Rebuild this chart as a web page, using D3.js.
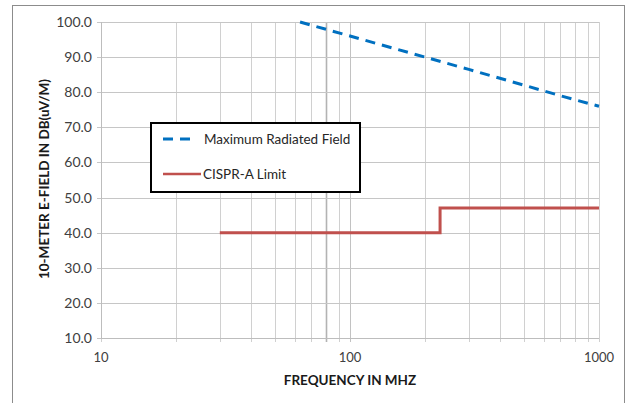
<!DOCTYPE html>
<html>
<head>
<meta charset="utf-8">
<script src="https://cdn.jsdelivr.net/npm/d3@7"></script>
<style>
  body { margin: 0; background: #fff; }
  text { font-family: Lato, "Open Sans", sans-serif; }
</style>
</head>
<body>
<script>
// data
var fieldFreq = [63, 100, 200, 300, 500, 700, 1000];
var fieldDb = [100, 96, 90, 86.5, 82, 79, 76];
var limitFreq = [30, 230, 230, 1000];
var limitDb = [40, 40, 47, 47];
var yTicks = [10, 20, 30, 40, 50, 60, 70, 80, 90, 100];
var xLabels = [10, 100, 1000];
var gridFreqs = [10, 20, 30, 40, 50, 60, 70, 80, 90, 100, 200, 300, 400, 500, 600, 700, 800, 900, 1000];
var seriesNames = ["Maximum Radiated Field", "CISPR-A Limit"];

var W = 631, H = 403;
var svg = d3.select("body").append("svg")
  .attr("width", W)
  .attr("height", H);

// outer chart border
svg.append("rect")
  .attr("x", 12.5)
  .attr("y", 5.5)
  .attr("width", 612)
  .attr("height", 410)
  .style("fill", "white")
  .style("stroke", "#8c8c8c")
  .style("stroke-width", 1);

var x = d3.scaleLog().domain([10, 1000]).range([101, 599]);
var y = d3.scaleLinear().domain([10, 100]).range([338, 22]);

var grid = svg.append("g");
grid.selectAll("line.v")
  .data(gridFreqs)
  .enter().append("line")
  .attr("x1", function(d) { return Math.round(x(d)) + 0.5; })
  .attr("x2", function(d) { return Math.round(x(d)) + 0.5; })
  .attr("y1", y(100))
  .attr("y2", y(10) + 4)
  .style("stroke", function(d) { return d == 80 ? "#b3b3b3" : (d == 100 ? "#c2c2c2" : "#d0d0d0"); })
  .style("stroke-width", function(d) { return d == 80 ? 1.6 : 1; });

grid.selectAll("line.h")
  .data(yTicks)
  .enter().append("line")
  .attr("x1", x(10) - 4)
  .attr("x2", x(1000))
  .attr("y1", function(d) { return Math.round(y(d)) + 0.5; })
  .attr("y2", function(d) { return Math.round(y(d)) + 0.5; })
  .style("stroke", "#c6c6c6");

// axis lines
svg.append("line")
  .attr("x1", x(10) + 0.5).attr("x2", x(10) + 0.5)
  .attr("y1", y(100)).attr("y2", y(10))
  .style("stroke", "#bdbdbd");
svg.append("line")
  .attr("x1", x(10)).attr("x2", x(1000))
  .attr("y1", Math.round(y(10)) + 0.5).attr("y2", Math.round(y(10)) + 0.5)
  .style("stroke", "#bdbdbd");

// tick labels
svg.selectAll("text.ylab")
  .data(yTicks)
  .enter().append("text")
  .attr("x", 92)
  .attr("y", function(d) { return y(d) + 5; })
  .attr("text-anchor", "end")
  .style("font-size", "14px")
  .style("fill", "#404040")
  .text(function(d) { return d.toFixed(1); });

svg.selectAll("text.xlab")
  .data(xLabels)
  .enter().append("text")
  .attr("x", function(d) { return x(d); })
  .attr("y", 362)
  .attr("text-anchor", "middle")
  .style("font-size", "13px")
  .style("fill", "#404040")
  .text(function(d) { return d; });

// axis titles
svg.append("text")
  .attr("x", 350)
  .attr("y", 385)
  .attr("text-anchor", "middle")
  .style("font-size", "13.5px")
  .style("font-weight", "bold")
  .style("fill", "#1a1a1a")
  .text("FREQUENCY IN MHZ");

svg.append("text")
  .attr("transform", "translate(49,179) rotate(-90)")
  .attr("text-anchor", "middle")
  .style("font-size", "13.5px")
  .style("font-weight", "bold")
  .style("fill", "#1a1a1a")
  .text("10-METER E-FIELD IN DB(uV/M)");

// series
var line = d3.line()
  .x(function(d) { return x(d[0]); })
  .y(function(d) { return y(d[1]); });

svg.append("path")
  .datum(d3.zip(limitFreq, limitDb))
  .attr("d", line)
  .style("fill", "none")
  .style("stroke", "#c0504d")
  .style("stroke-width", 3);

svg.append("path")
  .datum(d3.zip(fieldFreq, fieldDb))
  .attr("d", line)
  .style("fill", "none")
  .style("stroke", "#0070c0")
  .style("stroke-width", 3)
  .style("stroke-dasharray", "10,7");

// legend
var legend = svg.append("g").attr("transform", "translate(151, 123)");
legend.append("rect")
  .attr("width", 209)
  .attr("height", 69)
  .style("fill", "white")
  .style("stroke", "black")
  .style("stroke-width", 2);

legend.append("line")
  .attr("x1", 12).attr("x2", 43)
  .attr("y1", 16).attr("y2", 16)
  .style("stroke", "#0070c0")
  .style("stroke-width", 3)
  .style("stroke-dasharray", "10,7");
legend.append("line")
  .attr("x1", 12).attr("x2", 50)
  .attr("y1", 51).attr("y2", 51)
  .style("stroke", "#c0504d")
  .style("stroke-width", 2.5);

legend.selectAll("text")
  .data(seriesNames)
  .enter().append("text")
  .attr("x", function(d, i) { return i == 0 ? 53 : 52; })
  .attr("y", function(d, i) { return i == 0 ? 20.5 : 55.5; })
  .style("font-size", "13.5px")
  .style("fill", "#262626")
  .text(function(d) { return d; });
</script>
</body>
</html>
